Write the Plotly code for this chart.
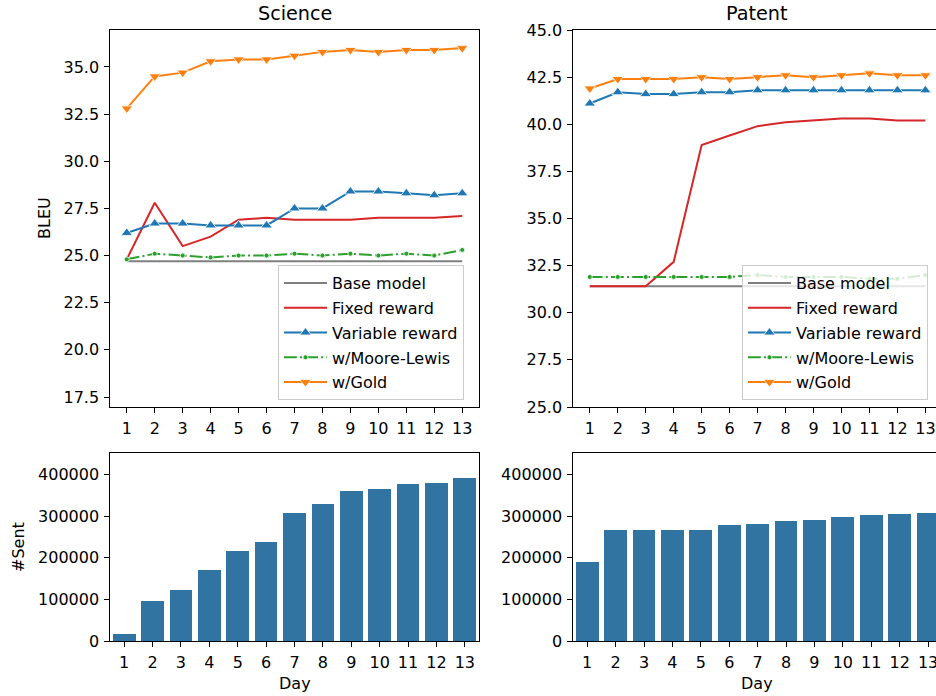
import plotly.graph_objects as go

days = list(range(1, 14))

sci_base = [24.7] * 13
sci_fixed = [24.8, 27.8, 25.5, 26.0, 26.9, 27.0, 26.9, 26.9, 26.9, 27.0, 27.0, 27.0, 27.1]
sci_variable = [26.2, 26.7, 26.7, 26.6, 26.6, 26.6, 27.5, 27.5, 28.4, 28.4, 28.3, 28.2, 28.3]
sci_moore = [24.8, 25.1, 25.0, 24.9, 25.0, 25.0, 25.1, 25.0, 25.1, 25.0, 25.1, 25.0, 25.3]
sci_gold = [32.8, 34.5, 34.7, 35.3, 35.4, 35.4, 35.6, 35.8, 35.9, 35.8, 35.9, 35.9, 36.0]

pat_base = [31.4] * 13
pat_fixed = [31.4, 31.4, 31.4, 32.7, 38.9, 39.4, 39.9, 40.1, 40.2, 40.3, 40.3, 40.2, 40.2]
pat_variable = [41.1, 41.7, 41.6, 41.6, 41.7, 41.7, 41.8, 41.8, 41.8, 41.8, 41.8, 41.8, 41.8]
pat_moore = [31.9, 31.9, 31.9, 31.9, 31.9, 31.9, 32.0, 31.9, 31.9, 31.9, 31.8, 31.8, 32.0]
pat_gold = [41.9, 42.4, 42.4, 42.4, 42.5, 42.4, 42.5, 42.6, 42.5, 42.6, 42.7, 42.6, 42.6]

sci_sent = [17000, 96000, 122000, 170000, 216000, 237000, 307000, 329000, 360000, 365000, 377000, 381000, 391000]
pat_sent = [189000, 266000, 266000, 266000, 266000, 278000, 281000, 288000, 290000, 297000, 302000, 305000, 307000]

series_names = ["Base model", "Fixed reward", "Variable reward", "w/Moore-Lewis", "w/Gold"]
sci_series = [sci_base, sci_fixed, sci_variable, sci_moore, sci_gold]
pat_series = [pat_base, pat_fixed, pat_variable, pat_moore, pat_gold]

bleu_ticks_sci = [17.5, 20.0, 22.5, 25.0, 27.5, 30.0, 32.5, 35.0]
bleu_ticks_pat = [25.0, 27.5, 30.0, 32.5, 35.0, 37.5, 40.0, 42.5, 45.0]
sent_ticks = [0, 100000, 200000, 300000, 400000]

colors = ["#7f7f7f", "#d62728", "#1f77b4", "#2ca02c", "#ff7f0e"]
modes = ["lines", "lines", "lines+markers", "lines+markers", "lines+markers"]
symbols = ["circle", "circle", "triangle-up", "circle", "triangle-down"]
msizes = [6, 6, 10, 5, 10]
dashes = ["solid", "solid", "solid", "12.8px,3.2px,2px,3.2px", "solid"]

FONT = "DejaVu Sans"
W, H = 936, 696


def fx(p):
    return p / W


def fy(p):
    return 1 - p / H


fig = go.Figure()

panels = [("x", "y", sci_series, "legend", "L"), ("x2", "y2", pat_series, "legend2", "R")]
for xa, ya, series, leg, tag in panels:
    for i, (name, vals) in enumerate(zip(series_names, series)):
        fig.add_trace(go.Scatter(
            x=days, y=vals, name=name, mode=modes[i],
            xaxis=xa, yaxis=ya, legend=leg, legendgroup=tag + str(i),
            line=dict(color=colors[i], width=2, dash=dashes[i]),
            marker=dict(symbol=symbols[i], size=msizes[i], color=colors[i],
                        line=dict(color="white", width=0.8)),
        ))

fig.add_trace(go.Bar(x=days, y=sci_sent, xaxis="x3", yaxis="y3", width=0.8,
                     marker=dict(color="#3274a1", line=dict(width=0)), showlegend=False))
fig.add_trace(go.Bar(x=days, y=pat_sent, xaxis="x4", yaxis="y4", width=0.8,
                     marker=dict(color="#3274a1", line=dict(width=0)), showlegend=False))

left_dom = [fx(110), fx(479)]
right_dom = [fx(573), 1.0]
top_dom = [fy(407), fy(30)]
bot_dom = [fy(641), fy(453)]

axis_common = dict(
    showgrid=False, zeroline=False, showline=True, linecolor="black", linewidth=1,
    ticks="outside", ticklen=4.7, tickwidth=1, tickcolor="black", automargin=False,
    ticklabelstandoff=2, ticklabeloverflow="allow",
    tickfont=dict(family=FONT, size=16, color="black"),
)

legend_common = dict(
    bgcolor="rgba(255,255,255,0.8)", bordercolor="#cccccc", borderwidth=1,
    font=dict(family=FONT, size=16, color="black"),
    traceorder="grouped", tracegroupgap=1, itemwidth=43,
    xanchor="left", yanchor="top",
)

fig.update_layout(
    template="none",
    width=W, height=H, margin=dict(l=0, r=0, t=0, b=0, pad=0),
    paper_bgcolor="white", plot_bgcolor="white",
    font=dict(family=FONT, size=16, color="black"),
    bargap=0, hovermode=False,
    xaxis=dict(domain=left_dom, anchor="y", range=[0.4, 13.6], tickvals=days, mirror=True, **axis_common),
    yaxis=dict(domain=top_dom, anchor="x", range=[16.97, 36.96], tickvals=bleu_ticks_sci,
               tickformat=".1f", mirror=True, **axis_common),
    xaxis2=dict(domain=right_dom, anchor="y2", range=[0.4, 13.38], tickvals=days, mirror=True, **axis_common),
    yaxis2=dict(domain=top_dom, anchor="x2", range=[25, 45], tickvals=bleu_ticks_pat,
                tickformat=".1f", **axis_common),
    xaxis3=dict(domain=left_dom, anchor="y3", range=[0.5, 13.5], tickvals=days, mirror=True, **axis_common),
    yaxis3=dict(domain=bot_dom, anchor="x3", range=[0, 452000], tickvals=sent_ticks,
                tickformat="d", mirror=True, **axis_common),
    xaxis4=dict(domain=right_dom, anchor="y4", range=[0.5, 13.28], tickvals=days, mirror=True, **axis_common),
    yaxis4=dict(domain=bot_dom, anchor="x4", range=[0, 452000], tickvals=sent_ticks,
                tickformat="d", **axis_common),
    legend=dict(x=fx(278), y=fy(265), **legend_common),
    legend2=dict(x=fx(742), y=fy(265), **legend_common),
)

ann = [
    dict(text="Science", x=fx(294.5), y=fy(14), size=19.2, angle=0),
    dict(text="Patent", x=fx(757), y=fy(14), size=19.2, angle=0),
    dict(text="BLEU", x=fx(45), y=fy(218), size=16, angle=-90),
    dict(text="#Sent", x=fx(18), y=fy(547), size=16, angle=-90),
    dict(text="Day", x=fx(294.5), y=fy(683), size=16, angle=0),
    dict(text="Day", x=fx(757), y=fy(683), size=16, angle=0),
]
for a in ann:
    fig.add_annotation(text=a["text"], x=a["x"], y=a["y"], xref="paper", yref="paper",
                       xanchor="center", yanchor="middle", showarrow=False, textangle=a["angle"],
                       font=dict(family=FONT, size=a["size"], color="black"))

fig.write_html("out.html", config={"displayModeBar": False},
               post_script="document.body.style.margin='0';")
